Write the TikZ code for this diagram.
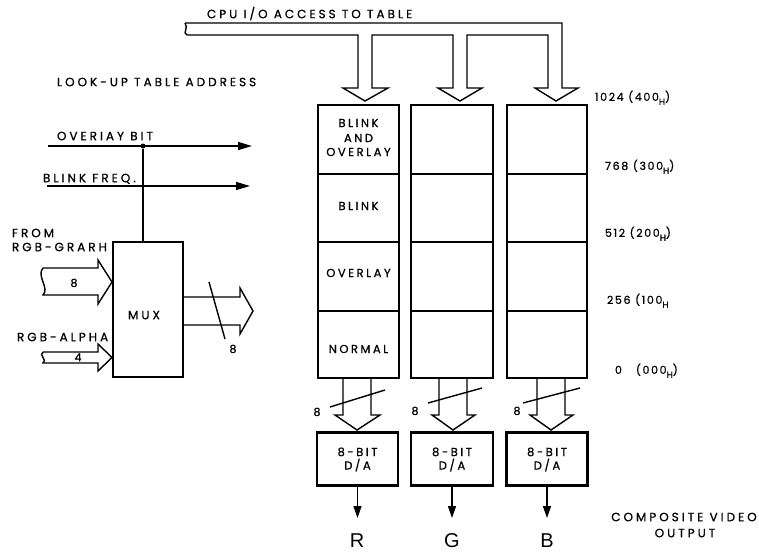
\documentclass[tikz,border=0pt]{standalone}
\usepackage{fontspec}
\setmainfont{Poppins}
\newfontfamily\lbl{Poppins}[LetterSpace=25,FakeBold=0.8]
\newfontfamily\clbl{Poppins}[LetterSpace=22,FakeBold=0.8]
\newfontfamily\nlbl{Poppins}[LetterSpace=15,FakeBold=0.8]
\newfontfamily\rgbf{Liberation Sans}
\usetikzlibrary{arrows.meta}
\newcommand{\subH}{\raisebox{-4pt}{\fontsize{9}{9}\selectfont H}}
\begin{document}
\begin{tikzpicture}[x=1pt,y=-1pt,
  txt/.style={inner sep=0pt, outer sep=0pt, font=\lbl\fontsize{12}{15}\selectfont, text height=8.4pt, text depth=0pt},
  ctxt/.style={inner sep=0pt, outer sep=0pt, font=\clbl\fontsize{11.5}{15}\selectfont, text height=8pt, text depth=0pt},
  ntxt/.style={inner sep=0pt, outer sep=0pt, font=\nlbl\fontsize{11}{15}\selectfont, text height=7.7pt, text depth=0pt},
  blk/.style={draw, line width=2.6pt, inner sep=0pt, outer sep=0pt},
  bus/.style={line width=1.4pt, line join=miter},
  sig/.style={line width=1.4pt, -{Triangle[length=14pt,width=8pt]}},
  outarr/.style={line width=1.4pt, -{Triangle[length=12pt,width=8pt]}},
  slash/.style={line width=1.4pt},
  div/.style={line width=2pt},
  rgb/.style={inner sep=0pt, font=\rgbf\fontsize{20}{20}\selectfont},
]
\useasboundingbox (0,0) rectangle (759,554);

% ---- lookup table columns
\node[blk, minimum width=81pt, minimum height=273pt] (c1) at (358.5,241.5) {};
\node[blk, minimum width=82pt, minimum height=273pt] (c2) at (452,241.5) {};
\node[blk, minimum width=80pt, minimum height=273pt] (c3) at (547,241.5) {};
\foreach \c in {c1,c2,c3}{
  \foreach \yy in {174,242,311}{
    \draw[div] (\c.west |- 0,\yy) -- (\c.east |- 0,\yy);
  }
}
\node[ctxt] (tb1) at (358.5,123) {BLINK};
\node[ctxt] (tb2) at (358.5,138) {AND};
\node[ctxt] (tb3) at (358.5,152) {OVERLAY};
\node[ctxt] (tbl) at (358.5,206) {BLINK};
\node[ctxt] (tov) at (358.5,273) {OVERLAY};
\node[ctxt] (tno) at (358.5,349) {NORMAL};

% ---- address labels
\node[ntxt, anchor=west] (a1) at (595,97) {1024 (400\subH)};
\node[ntxt, anchor=west] (a2) at (605,166) {768 (300\subH)};
\node[ntxt, anchor=west] (a3) at (605,233) {512 (200\subH)};
\node[ntxt, anchor=west] (a4) at (607,300) {256 (100\subH};
\node[ntxt, anchor=west] (a5) at (615,370) {0\hspace{14pt}(000\subH)};

% ---- CPU bus
\node[txt, anchor=west] (cpu) at (207,14) {CPU I/O ACCESS TO TABLE};
\draw[bus] (185,23) -- (562,23) -- (562,88) -- (578,88) -- (556,101) -- (535,88) -- (548,88) -- (548,35)
  -- (467,35) -- (467,88) -- (482,88) -- (460,101) -- (438,88) -- (453,88) -- (453,35)
  -- (372,35) -- (372,88) -- (388,88) -- (365,101) -- (343,88) -- (358,88) -- (358,35)
  -- (187,35) .. controls (182,33) and (189,28) .. (185,23);

% ---- left side
\node[txt, anchor=west] (lut) at (57,82) {LOOK-UP TABLE ADDRESS};
\node[txt, anchor=west] (ovt) at (57,136) {OVERIAY BIT};
\node[txt, anchor=west] (blt) at (43,178) {BLINK FREQ.};
\coordinate (ovA) at (48,146); \coordinate (ovB) at (252,146);
\coordinate (blA) at (47,186); \coordinate (blB) at (250,186);
\draw[sig] (ovA) -- (ovB);
\draw[sig] (blA) -- (blB);

\node[blk, minimum width=70pt, minimum height=135pt] (mux) at (148,309.5) {};
\node[txt] (muxt) at (144,315) {MUX};
\node[circle, fill, inner sep=0pt, minimum size=5pt] (dot) at (143,146) {};
\draw[line width=1.4pt] (dot) -- (dot |- mux.north);

\node[txt, anchor=west] (fr1) at (12,233) {FROM};
\node[txt, anchor=west] (fr2) at (12,247) {RGB-GRARH};
\node[txt, anchor=west] (alp) at (17,337) {RGB-ALPHA};

\draw[bus] (43,268) -- (98,268) -- (98,260) -- (112,282) -- (98,304) -- (98,295) -- (43,295)
  .. controls (50,288) and (36,276) .. (43,268);
\node[ntxt] (n8a) at (74,283) {8};
\draw[bus] (43,352) -- (98,352) -- (98,344) -- (112,357.5) -- (98,371) -- (98,363) -- (43,363)
  .. controls (48,360) and (38,355) .. (43,352);
\node[ntxt] (n4) at (78,357.5) {4};

\draw[bus] (183,297) -- (240,297) -- (240,288) -- (253,311) -- (240,334) -- (240,325) -- (183,325);
\draw[slash] (209,282) -- (225,339);
\node[ntxt] (n8b) at (233,349) {8};

% ---- column to D/A buses
\draw[bus] (343,378) -- (343,415) -- (335,415) -- (357,430) -- (380,415) -- (371,415) -- (371,378);
\draw[slash] (330,407) -- (385,390);
\node[ntxt] (s1) at (317,412) {8};
\draw[bus] (439,378) -- (439,415) -- (432,415) -- (453,430) -- (475,415) -- (467,415) -- (467,378);
\draw[slash] (428,403) -- (482,388);
\node[ntxt] (s2) at (415,411) {8};
\draw[bus] (537,378) -- (537,415) -- (530,415) -- (551,430) -- (573,415) -- (565,415) -- (565,378);
\draw[slash] (523,403) -- (580,388);
\node[ntxt] (s3) at (517,411) {8};

% ---- D/A
\node[blk, minimum width=81pt, minimum height=53pt] (da1) at (357.5,459) {};
\node[blk, minimum width=82pt, minimum height=53pt] (da2) at (452,459) {};
\node[blk, minimum width=81pt, minimum height=53pt] (da3) at (547,459) {};
\foreach \d in {da1,da2,da3}{
  \node[ctxt] at ([yshift=7pt]\d.center) {8-BIT};
  \node[ctxt] at ([yshift=-6.5pt]\d.center) {D/A};
}
\coordinate (oR) at (357.5,518); \coordinate (oG) at (452,518); \coordinate (oB) at (547,518);
\draw[outarr] (da1.south) -- (oR);
\draw[outarr] (da2.south) -- (oG);
\draw[outarr] (da3.south) -- (oB);
\node[rgb] (R) at (357,541) {R};
\node[rgb] (G) at (452,541) {G};
\node[rgb] (B) at (547,541) {B};

\node[txt] (cv1) at (684,517) {COMPOSITE VIDEO};
\node[txt] (cv2) at (685,533) {OUTPUT};
\end{tikzpicture}
\end{document}
